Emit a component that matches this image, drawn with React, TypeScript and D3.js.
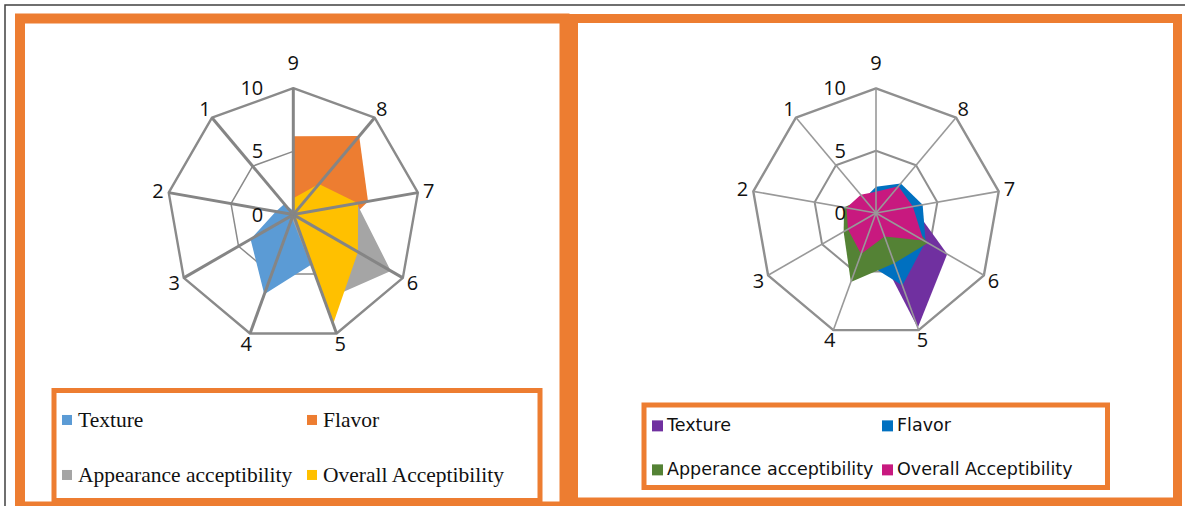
import { useEffect, useRef } from 'react';
import * as d3 from 'd3';

// Categories run clockwise from the top spoke
const CATEGORIES = ['9', '8', '7', '6', '5', '4', '3', '2', '1'];
const TICKS = [0, 5, 10];

// Left panel (values per category, same order as CATEGORIES)
const L_TEXTURE = [0.3, 0.3, 0.5, 1.5, 4.2, 6.7, 3.9, 1.4, 1.1];
const L_FLAVOR = [6.2, 8.1, 6.0, 3.5, 1.0, 0, 0, 0, 0];
const L_APPEARANCE = [0.5, 0.5, 5.1, 8.9, 7.2, 0.3, 0, 0, 0];
const L_OVERALL = [1.3, 3.15, 5.2, 5.9, 9.2, 0, 0, 0, 0];

// Right panel
const R_TEXTURE = [1.0, 1.5, 3.0, 6.6, 9.8, 1.7, 1.0, 1.0, 1.0];
const R_FLAVOR = [2.1, 3.1, 3.8, 4.6, 6.2, 3.9, 2.0, 1.5, 1.5];
const R_APPEARANCE = [1.5, 1.5, 2.0, 4.8, 4.3, 5.9, 3.0, 2.6, 1.5];
const R_OVERALL = [1.7, 2.8, 3.0, 4.4, 2.0, 3.5, 2.6, 2.4, 1.9];

const LEFT_NAMES = ['Texture', 'Flavor', 'Appearance acceptibility', 'Overall Acceptibility'];
const RIGHT_NAMES = ['Texture', 'Flavor', 'Apperance acceptibility', 'Overall Acceptibility'];
const LEFT_COLORS = ['#5B9BD5', '#ED7D31', '#A5A5A5', '#FFC000'];
const RIGHT_COLORS = ['#7030A0', '#0070C0', '#548235', '#C8197F'];

const ORANGE = '#ED7D31';
const LABEL_FONT = "'Open Sans', sans-serif";

type Sel = d3.Selection<SVGGElement, unknown, null, undefined>;

function drawRadar(
  parent: Sel,
  cx: number,
  cy: number,
  R: number,
  series: number[][],
  colors: string[],
  w: { spoke: number; outer: number; inner: number; grid: string; spokeColor: string }
) {
  const r = d3.scaleLinear().domain([0, 10]).range([0, R]);
  const a = d3.scaleLinear().domain([0, CATEGORIES.length]).range([0, 2 * Math.PI]);
  const g = parent.append('g').attr('transform', `translate(${cx},${cy})`);

  // rings (behind the fills)
  TICKS.filter((t) => t > 0).forEach((t) => {
    const ring = d3.lineRadial<string>()
      .angle((_, i) => a(i))
      .radius(() => r(t))
      .curve(d3.curveLinearClosed);
    g.append('path')
      .attr('d', ring(CATEGORIES))
      .attr('fill', 'none')
      .attr('stroke', w.grid)
      .attr('stroke-width', t === 10 ? w.outer : w.inner)
      .attr('stroke-linejoin', 'round');
  });

  // filled series, first series at the back
  const area = d3.lineRadial<number>()
    .angle((_, i) => a(i))
    .radius((d) => r(d))
    .curve(d3.curveLinearClosed);
  series.forEach((s, k) => {
    g.append('path').attr('d', area(s)).attr('fill', colors[k]).attr('stroke', 'none');
  });

  // spokes drawn over the fills
  CATEGORIES.forEach((_, i) => {
    g.append('line')
      .attr('x1', 0).attr('y1', 0)
      .attr('x2', r(10) * Math.sin(a(i)))
      .attr('y2', -r(10) * Math.cos(a(i)))
      .attr('stroke', w.spokeColor)
      .attr('stroke-width', w.spoke);
  });

  // category labels
  CATEGORIES.forEach((c, i) => {
    const ang = a(i);
    const d = R + 11 + (Math.cos(ang) > 0.99 ? 14 : 0);
    g.append('text')
      .attr('x', d * Math.sin(ang))
      .attr('y', -d * Math.cos(ang))
      .attr('dy', '0.35em')
      .attr('text-anchor', 'middle')
      .attr('font-family', LABEL_FONT)
      .attr('font-size', 20)
      .attr('fill', '#111')
      .text(c);
  });

  // value axis labels on the left of the top spoke
  TICKS.forEach((t) => {
    g.append('text')
      .attr('x', -30)
      .attr('y', -r(t))
      .attr('dy', '0.35em')
      .attr('text-anchor', 'end')
      .attr('font-family', LABEL_FONT)
      .attr('font-size', 20)
      .attr('fill', '#111')
      .text(t);
  });
}

function drawLegend(
  parent: Sel,
  names: string[],
  colors: string[],
  o: { x0: number; x1: number; y0: number; y1: number; box: number; gap: number; font: string; size: number }
) {
  names.forEach((n, i) => {
    const x = i % 2 === 0 ? o.x0 : o.x1;
    const y = i < 2 ? o.y0 : o.y1;
    parent.append('rect')
      .attr('x', x).attr('y', y - o.box / 2 - 0.35 * o.size + 1)
      .attr('width', o.box).attr('height', o.box)
      .attr('fill', colors[i]);
    parent.append('text')
      .attr('x', x + o.box + o.gap)
      .attr('y', y)
      .attr('font-family', o.font)
      .attr('font-size', o.size)
      .attr('fill', '#111')
      .text(n);
  });
}

export default function App() {
  const svgRef = useRef<SVGSVGElement>(null);

  useEffect(() => {
    const el = svgRef.current;
    if (!el) return;
    const svg = d3.select(el);
    svg.selectAll('*').remove();
    const root = svg.append('g') as unknown as Sel;

    root.append('rect').attr('width', 1185).attr('height', 506).attr('fill', '#fff');

    // outer thin border
    root.append('rect')
      .attr('x', 5).attr('y', 5).attr('width', 1190).attr('height', 520)
      .attr('fill', 'none').attr('stroke', '#404040').attr('stroke-width', 1.5);

    // panel frames
    root.append('rect')
      .attr('x', 20).attr('y', 18.5).attr('width', 544.5).attr('height', 488)
      .attr('fill', '#fff').attr('stroke', ORANGE).attr('stroke-width', 10);
    root.append('rect')
      .attr('x', 573.5).attr('y', 18.5).attr('width', 604).attr('height', 483.5)
      .attr('fill', '#fff').attr('stroke', ORANGE).attr('stroke-width', 9);

    drawRadar(root, 293.3, 214.6, 126.5,
      [L_TEXTURE, L_FLAVOR, L_APPEARANCE, L_OVERALL], LEFT_COLORS,
      { spoke: 3, outer: 2.4, inner: 1.5, grid: '#8A8A8A', spokeColor: '#858585' });
    drawRadar(root, 876, 213, 124.6,
      [R_TEXTURE, R_FLAVOR, R_APPEARANCE, R_OVERALL], RIGHT_COLORS,
      { spoke: 1.6, outer: 2.4, inner: 2, grid: '#8F8F8F', spokeColor: '#999999' });

    // legend boxes
    root.append('rect')
      .attr('x', 54).attr('y', 390.5).attr('width', 486).attr('height', 110)
      .attr('fill', 'none').attr('stroke', ORANGE).attr('stroke-width', 5);
    root.append('rect')
      .attr('x', 644).attr('y', 405).attr('width', 463.5).attr('height', 82.5)
      .attr('fill', 'none').attr('stroke', ORANGE).attr('stroke-width', 5);

    drawLegend(root, LEFT_NAMES, LEFT_COLORS, {
      x0: 62, x1: 307, y0: 426.5, y1: 481.5, box: 10, gap: 6,
      font: "'Liberation Serif', 'Times New Roman', serif", size: 21.5,
    });
    drawLegend(root, RIGHT_NAMES, RIGHT_COLORS, {
      x0: 652, x1: 882, y0: 431, y1: 475, box: 11, gap: 4,
      font: "'DejaVu Sans', sans-serif", size: 17.5,
    });
  }, []);

  return (
    <div style={{ position: 'absolute', left: 0, top: 0 }}>
      <svg ref={svgRef} width={1185} height={506} style={{ display: 'block' }} />
    </div>
  );
}
